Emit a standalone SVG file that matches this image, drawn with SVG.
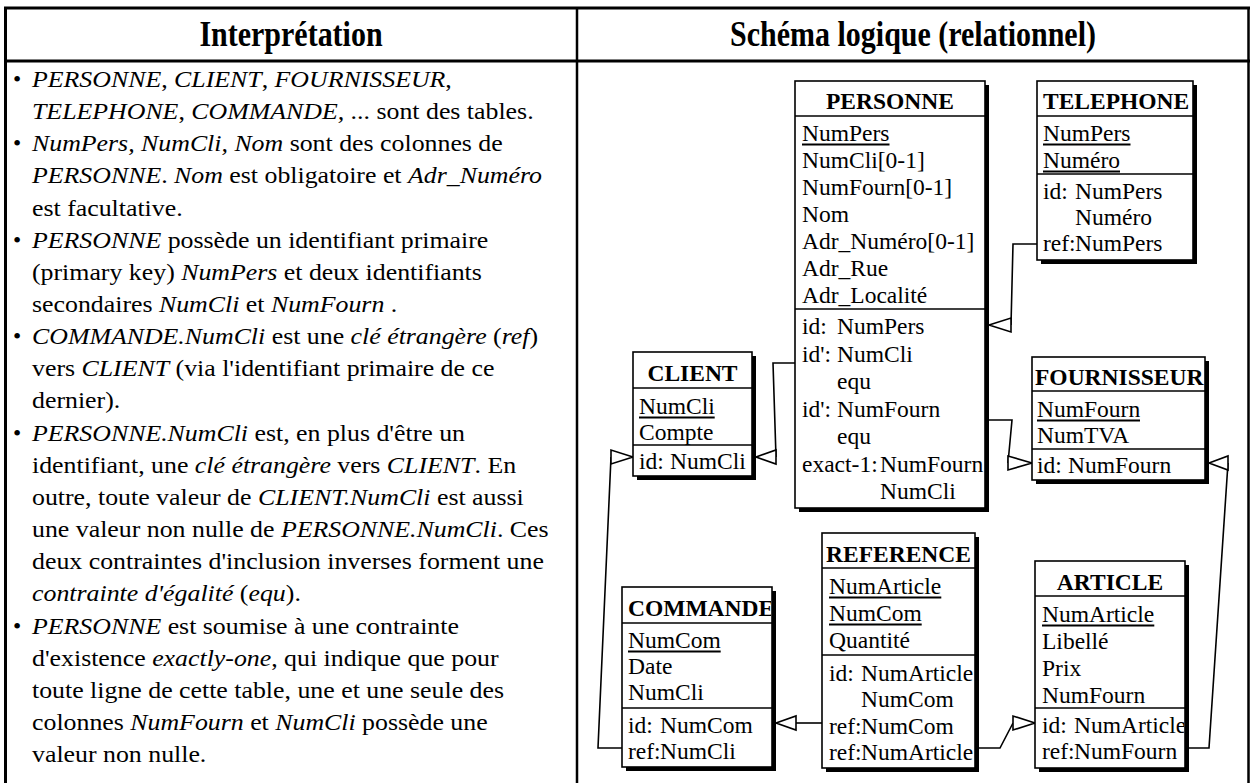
<svg xmlns="http://www.w3.org/2000/svg" width="1254" height="783" viewBox="0 0 1254 783" font-family="Liberation Serif, serif">
<style>
  .hd{font-weight:bold;font-size:30px;text-anchor:middle}
  .tx{font-size:23.5px}
  .it{font-style:italic}
  .rule{stroke:#000;fill:none}
  .box{fill:#fff;stroke:#000;stroke-width:1.6}
  .sh{fill:#000}
  .sep{stroke:#000;stroke-width:1.6}
  .nm{font-weight:bold;font-size:23.5px}
  .at{font-size:23.5px}
  .mid{text-anchor:middle}
  .ul{stroke:#000;stroke-width:2}
  .cn{fill:none;stroke:#000;stroke-width:1.6}
  .ah{fill:#fff;stroke:#000;stroke-width:1.6;stroke-linejoin:miter}
</style>
<defs>
  <clipPath id="cpPers"><rect x="796" y="82" width="188" height="425"/></clipPath>
  <clipPath id="cpTel"><rect x="1038" y="82" width="154" height="177"/></clipPath>
  <clipPath id="cpCli"><rect x="634" y="353" width="117" height="122"/></clipPath>
  <clipPath id="cpFour"><rect x="1033" y="358" width="171" height="121"/></clipPath>
  <clipPath id="cpCom"><rect x="623" y="588" width="148" height="178"/></clipPath>
  <clipPath id="cpRef"><rect x="823" y="534" width="151" height="233"/></clipPath>
  <clipPath id="cpArt"><rect x="1036" y="562" width="148" height="205"/></clipPath>
</defs>
<rect width="1254" height="783" fill="#fff"/>

<!-- table frame -->
<g id="frame">
  <line class="rule" x1="4" y1="8" x2="1250" y2="8" stroke-width="3"/>
  <line class="rule" x1="5.5" y1="7" x2="5.5" y2="783" stroke-width="3"/>
  <line class="rule" x1="4" y1="61" x2="1250" y2="61" stroke-width="3"/>
  <line class="rule" x1="577" y1="7" x2="577" y2="783" stroke-width="2.5"/>
  <line class="rule" x1="1248.5" y1="7" x2="1248.5" y2="783" stroke-width="2.5"/>
  <text class="hd" transform="translate(291 46) scale(1 1.18)">Interprétation</text>
  <text class="hd" transform="translate(913 46) scale(1 1.18)">Schéma logique (relationnel)</text>
</g>

<!-- explanatory column -->
<g id="notes">
  <g class="tx">
    <text x="13" y="87">•</text>
    <text x="13" y="151.3">•</text>
    <text x="13" y="247.8">•</text>
    <text x="13" y="344.2">•</text>
    <text x="13" y="440.7">•</text>
    <text x="13" y="633.6">•</text>
  </g>
  <g class="tx" transform="translate(32 0) scale(1.1 1)">
    <text x="0" y="87"><tspan class="it">PERSONNE</tspan>, <tspan class="it">CLIENT</tspan>, <tspan class="it">FOURNISSEUR</tspan>,</text>
    <text x="0" y="119.2"><tspan class="it">TELEPHONE</tspan>, <tspan class="it">COMMANDE,</tspan> ... sont des tables.</text>
    <text x="0" y="151.3"><tspan class="it">NumPers, NumCli, Nom</tspan> sont des colonnes de</text>
    <text x="0" y="183.5"><tspan class="it">PERSONNE</tspan>. <tspan class="it">Nom</tspan> est obligatoire et <tspan class="it">Adr_Numéro</tspan></text>
    <text x="0" y="215.6">est facultative.</text>
    <text x="0" y="247.8"><tspan class="it">PERSONNE</tspan> possède un identifiant primaire</text>
    <text x="0" y="279.9">(primary key) <tspan class="it">NumPers</tspan> et deux identifiants</text>
    <text x="0" y="312.1">secondaires <tspan class="it">NumCli</tspan> et <tspan class="it">NumFourn</tspan> .</text>
    <text x="0" y="344.2"><tspan class="it">COMMANDE.NumCli</tspan> est une <tspan class="it">clé étrangère</tspan> (<tspan class="it">ref</tspan>)</text>
    <text x="0" y="376.4">vers <tspan class="it">CLIENT</tspan> (via l'identifiant primaire de ce</text>
    <text x="0" y="408.5">dernier).</text>
    <text x="0" y="440.7"><tspan class="it">PERSONNE.NumCli</tspan> est, en plus d'être un</text>
    <text x="0" y="472.8">identifiant, une <tspan class="it">clé étrangère</tspan> vers <tspan class="it">CLIENT</tspan>. En</text>
    <text x="0" y="505">outre, toute valeur de <tspan class="it">CLIENT.NumCli</tspan> est aussi</text>
    <text x="0" y="537.1">une valeur non nulle de <tspan class="it">PERSONNE.NumCli</tspan>. Ces</text>
    <text x="0" y="569.3">deux contraintes d'inclusion inverses forment une</text>
    <text x="0" y="601.4"><tspan class="it">contrainte d'égalité</tspan> (<tspan class="it">equ</tspan>).</text>
    <text x="0" y="633.6"><tspan class="it">PERSONNE</tspan> est soumise à une contrainte</text>
    <text x="0" y="665.7">d'existence <tspan class="it">exactly-one</tspan>, qui indique que pour</text>
    <text x="0" y="697.9">toute ligne de cette table, une et une seule des</text>
    <text x="0" y="730">colonnes <tspan class="it">NumFourn</tspan> et <tspan class="it">NumCli</tspan> possède une</text>
    <text x="0" y="762.2">valeur non nulle.</text>
  </g>
</g>

<!-- connectors (foreign keys / inclusions) -->
<g id="connectors">
  <polyline class="cn" points="1037,244 1013,244 1011,325"/>
  <polygon class="ah" points="989,325 1011,318 1011,332"/>

  <polyline class="cn" points="989,420 1012,420 1008,463"/>
  <polygon class="ah" points="1032,463 1008,456 1008,470"/>

  <polyline class="cn" points="795,363 773,363 776,457"/>
  <polygon class="ah" points="756,457 776,450 776,464"/>

  <polyline class="cn" points="622,748 598,748 611,457"/>
  <polygon class="ah" points="633,457 611,450 611,464"/>

  <polyline class="cn" points="822,723 796,723"/>
  <polygon class="ah" points="776,723 796,716 796,730"/>

  <polyline class="cn" points="979,748 1000,748 1013,723"/>
  <polygon class="ah" points="1035,723 1013,716 1013,730"/>

  <polyline class="cn" points="1189,748 1209,748 1228,463"/>
  <polygon class="ah" points="1209,463 1228,456 1228,470"/>
</g>

<!-- PERSONNE -->
<g id="personne">
  <rect class="sh" x="799" y="85" width="190" height="427"/>
  <rect class="box" x="795" y="81" width="190" height="427"/>
  <line class="sep" x1="795" y1="116" x2="985" y2="116"/>
  <line class="sep" x1="795" y1="309" x2="985" y2="309"/>
  <g clip-path="url(#cpPers)">
    <text class="nm mid" x="890" y="109">PERSONNE</text>
    <g class="at">
      <text x="802" y="141">NumPers</text>
      <text x="802" y="168">NumCli[0-1]</text>
      <text x="802" y="195">NumFourn[0-1]</text>
      <text x="802" y="222">Nom</text>
      <text x="802" y="249">Adr_Numéro[0-1]</text>
      <text x="802" y="276">Adr_Rue</text>
      <text x="802" y="303">Adr_Localité</text>
      <text x="802" y="334">id:</text><text x="837" y="334">NumPers</text>
      <text x="802" y="361.5">id':</text><text x="837" y="361.5">NumCli</text>
      <text x="837" y="389">equ</text>
      <text x="802" y="416.5">id':</text><text x="837" y="416.5">NumFourn</text>
      <text x="837" y="444">equ</text>
      <text x="802" y="471.5">exact-1:</text><text x="880" y="471.5">NumFourn</text>
      <text x="880" y="499">NumCli</text>
    </g>
    <line class="ul" x1="802" y1="144.5" x2="889.5" y2="144.5"/>
  </g>
</g>

<!-- TELEPHONE -->
<g id="telephone">
  <rect class="sh" x="1041" y="85" width="156" height="179"/>
  <rect class="box" x="1037" y="81" width="156" height="179"/>
  <line class="sep" x1="1037" y1="116" x2="1193" y2="116"/>
  <line class="sep" x1="1037" y1="174" x2="1193" y2="174"/>
  <g clip-path="url(#cpTel)">
    <text class="nm" x="1043" y="109">TELEPHONE</text>
    <g class="at">
      <text x="1043" y="141">NumPers</text>
      <text x="1043" y="168">Numéro</text>
      <text x="1043" y="199">id:</text><text x="1075" y="199">NumPers</text>
      <text x="1075" y="225">Numéro</text>
      <text x="1043" y="251">ref:</text><text x="1075" y="251">NumPers</text>
    </g>
    <line class="ul" x1="1043" y1="144.5" x2="1130.5" y2="144.5"/>
    <line class="ul" x1="1043" y1="171.5" x2="1120" y2="171.5"/>
  </g>
</g>

<!-- CLIENT -->
<g id="client">
  <rect class="sh" x="637" y="356" width="119" height="124"/>
  <rect class="box" x="633" y="352" width="119" height="124"/>
  <line class="sep" x1="633" y1="388" x2="752" y2="388"/>
  <line class="sep" x1="633" y1="445" x2="752" y2="445"/>
  <g clip-path="url(#cpCli)">
    <text class="nm mid" x="692.5" y="381">CLIENT</text>
    <g class="at">
      <text x="639" y="414">NumCli</text>
      <text x="639" y="440">Compte</text>
      <text x="639" y="469">id:</text><text x="670" y="469">NumCli</text>
    </g>
    <line class="ul" x1="639" y1="417.5" x2="714.7" y2="417.5"/>
  </g>
</g>

<!-- FOURNISSEUR -->
<g id="fournisseur">
  <rect class="sh" x="1036" y="361" width="173" height="123"/>
  <rect class="box" x="1032" y="357" width="173" height="123"/>
  <line class="sep" x1="1032" y1="391" x2="1205" y2="391"/>
  <line class="sep" x1="1032" y1="449" x2="1205" y2="449"/>
  <g clip-path="url(#cpFour)">
    <text class="nm" x="1035" y="385">FOURNISSEUR</text>
    <g class="at">
      <text x="1037" y="417">NumFourn</text>
      <text x="1037" y="443">NumTVA</text>
      <text x="1037" y="473">id:</text><text x="1068" y="473">NumFourn</text>
    </g>
    <line class="ul" x1="1037" y1="420.5" x2="1140" y2="420.5"/>
  </g>
</g>

<!-- COMMANDE -->
<g id="commande">
  <rect class="sh" x="626" y="591" width="150" height="180"/>
  <rect class="box" x="622" y="587" width="150" height="180"/>
  <line class="sep" x1="622" y1="623" x2="772" y2="623"/>
  <line class="sep" x1="622" y1="708" x2="772" y2="708"/>
  <g clip-path="url(#cpCom)">
    <text class="nm" x="628" y="616">COMMANDE</text>
    <g class="at">
      <text x="628" y="648">NumCom</text>
      <text x="628" y="674">Date</text>
      <text x="628" y="700">NumCli</text>
      <text x="628" y="733">id:</text><text x="660" y="733">NumCom</text>
      <text x="628" y="759">ref:</text><text x="660" y="759">NumCli</text>
    </g>
    <line class="ul" x1="628" y1="651.5" x2="720.7" y2="651.5"/>
  </g>
</g>

<!-- REFERENCE -->
<g id="reference">
  <rect class="sh" x="826" y="537" width="153" height="235"/>
  <rect class="box" x="822" y="533" width="153" height="235"/>
  <line class="sep" x1="822" y1="568" x2="975" y2="568"/>
  <line class="sep" x1="822" y1="655" x2="975" y2="655"/>
  <g clip-path="url(#cpRef)">
    <text class="nm mid" x="898.5" y="562">REFERENCE</text>
    <g class="at">
      <text x="829" y="594">NumArticle</text>
      <text x="829" y="621">NumCom</text>
      <text x="829" y="648">Quantité</text>
      <text x="829" y="681">id:</text><text x="861" y="681">NumArticle</text>
      <text x="861" y="707">NumCom</text>
      <text x="829" y="734">ref:</text><text x="861" y="734">NumCom</text>
      <text x="829" y="760">ref:</text><text x="861" y="760">NumArticle</text>
    </g>
    <line class="ul" x1="829" y1="597.5" x2="941.3" y2="597.5"/>
    <line class="ul" x1="829" y1="624.5" x2="921.7" y2="624.5"/>
  </g>
</g>

<!-- ARTICLE -->
<g id="article">
  <rect class="sh" x="1039" y="565" width="150" height="207"/>
  <rect class="box" x="1035" y="561" width="150" height="207"/>
  <line class="sep" x1="1035" y1="596" x2="1185" y2="596"/>
  <line class="sep" x1="1035" y1="708" x2="1185" y2="708"/>
  <g clip-path="url(#cpArt)">
    <text class="nm mid" x="1110" y="590">ARTICLE</text>
    <g class="at">
      <text x="1042" y="622">NumArticle</text>
      <text x="1042" y="649">Libellé</text>
      <text x="1042" y="676">Prix</text>
      <text x="1042" y="703">NumFourn</text>
      <text x="1042" y="733">id:</text><text x="1074" y="733">NumArticle</text>
      <text x="1042" y="759">ref:</text><text x="1074" y="759">NumFourn</text>
    </g>
    <line class="ul" x1="1042" y1="625.5" x2="1154.3" y2="625.5"/>
  </g>
</g>
</svg>
